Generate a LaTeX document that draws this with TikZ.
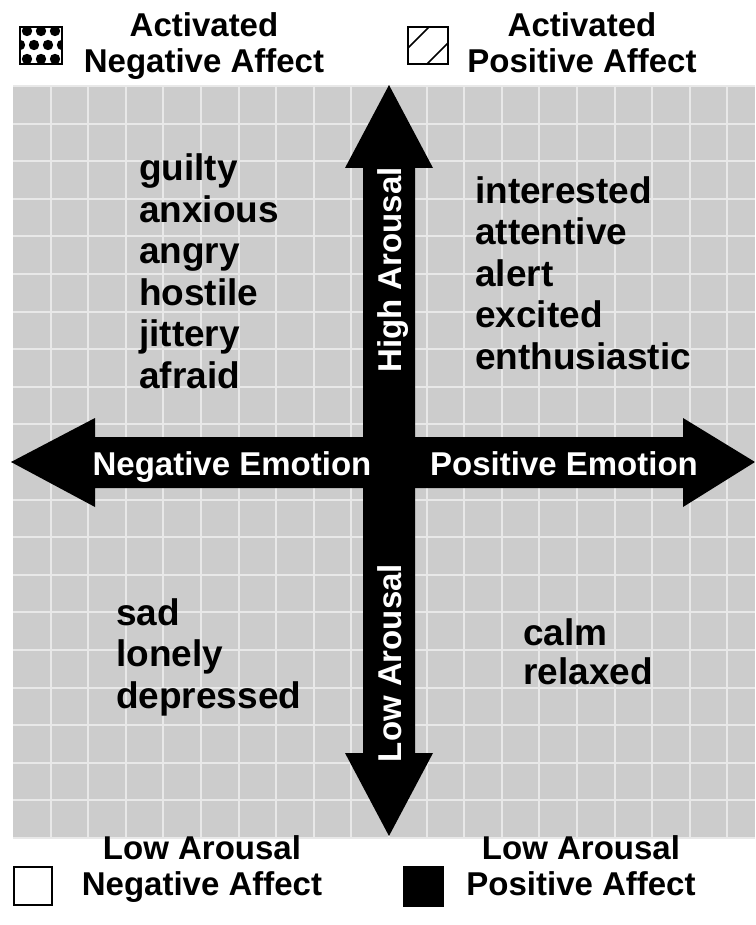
\documentclass[tikz,border=0pt]{standalone}
\usepackage{fontspec}
\setmainfont{Liberation Sans}
\definecolor{panelgrey}{HTML}{CCCCCC}
\definecolor{gridgrey}{HTML}{E8E8E8}
\tikzset{
  gridline/.style={gridgrey, line width=2pt},
  headtext/.style={font=\fontsize{33}{36}\selectfont\bfseries, align=center, inner sep=0pt, anchor=base},
  listtext/.style={font=\fontsize{37}{41.5}\selectfont\bfseries, align=left, inner sep=0pt, anchor=base west},
  axistext/.style={font=\fontsize{33}{36}\selectfont\bfseries, white, inner sep=0pt, anchor=base},
  iconbox/.style={draw=black, line width=1.6pt}
}
\begin{document}
\begin{tikzpicture}[x=1pt,y=-1pt]
    \useasboundingbox (0,0) rectangle (755,925);
    % grauer Hintergrund mit Gitter
    \fill[panelgrey] (13,86) rectangle (755,838);
    \foreach \i in {1,...,19}
        \draw[gridline] ({13+37.6*\i},86) -- ({13+37.6*\i},838);
    \foreach \j in {0,...,20}
        \draw[gridline] (13,{86+37.6*\j}) -- (755,{86+37.6*\j});

    % Achsenpfeile
    \fill (389,85) -- (433,168) -- (415,168) -- (415,753) -- (433,753) -- (389,836)
        -- (345,753) -- (363,753) -- (363,168) -- (345,168) -- cycle;
    \fill (11,462) -- (95,418) -- (95,437) -- (683,437) -- (683,418) -- (755,462)
        -- (683,507) -- (683,488) -- (95,488) -- (95,507) -- cycle;
    \node[axistext] (neg) at (232,475) {Negative Emotion};
    \node[axistext] (pos) at (564,475) {Positive Emotion};
    \node[axistext, rotate=90] (high) at (401,270) {High Arousal};
    \node[axistext, rotate=90] (low) at (401,663) {Low Arousal};

    % Woerter in den Quadranten (Grundlinie der letzten Zeile)
    \node[listtext] (anl) at (139,388) {guilty\\anxious\\angry\\hostile\\jittery\\afraid};
    \node[listtext] (apl) at (475,369) {interested\\attentive\\alert\\excited\\enthusiastic};
    \node[listtext] (lnl) at (116,708) {sad\\lonely\\depressed};
    \node[listtext, font=\fontsize{37}{39}\selectfont\bfseries] (lpl) at (523,684) {calm\\relaxed};

    % Legende oben
    \node[headtext] (anh) at (204,73) {Activated\\Negative Affect};
    \node[headtext] (aph) at (582,73) {Activated\\Positive Affect};
    \begin{scope}
        \clip (20,27) rectangle (62,64);
        \fill[white] (20,27) rectangle (62,64);
        \foreach \x in {27,41,55} {
            \fill (\x,31) circle (5.2);
            \fill (\x,59) circle (5.2);
        }
        \foreach \x in {20,34,48,62}
            \fill (\x,45) circle (5.2);
    \end{scope}
    \draw[iconbox] (20,27) rectangle (62,64);
    \draw[iconbox] (408,27) rectangle (448,64);
    \draw[line width=1.6pt] (408,48) -- (429,27);
    \draw[line width=1.6pt] (427,64) -- (448,43);

    % Legende unten
    \node[headtext] (lnh) at (202,895) {Low Arousal\\Negative Affect};
    \node[headtext] (lph) at (581,895) {Low Arousal\\Positive Affect};
    \draw[iconbox] (14,867) rectangle (52,905);
    \fill (403,866) rectangle (444,907);
\end{tikzpicture}
\end{document}
